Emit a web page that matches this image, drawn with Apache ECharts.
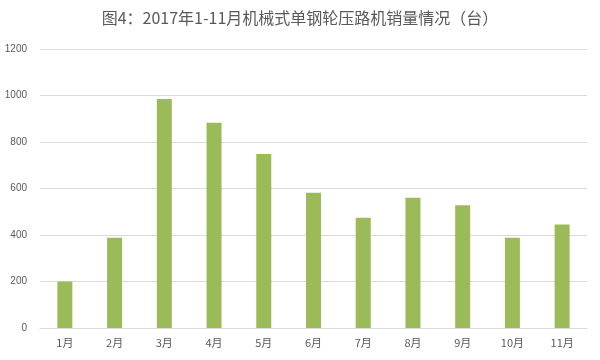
<!DOCTYPE html>
<html><head><meta charset="utf-8">
<script src="https://cdn.jsdelivr.net/npm/echarts@6/dist/echarts.min.js"></script>
<style>html,body{margin:0;padding:0;background:#fff}#c{width:600px;height:360px}</style>
</head><body><div id="c"></div>
<script>
const titleText = '图4：2017年1-11月机械式单钢轮压路机销量情况（台）';
const categories = ['1月','2月','3月','4月','5月','6月','7月','8月','9月','10月','11月'];
const sales = [200, 388, 985, 883, 748, 582, 474, 560, 528, 388, 445];
const yTicks = [0, 200, 400, 600, 800, 1000, 1200];

const chart = echarts.init(document.getElementById('c'));
chart.setOption({
  animation: false,
  backgroundColor: '#fff',
  title: {
    text: titleText, left: 'center', top: 5,
    textStyle: { fontFamily: 'Noto Sans CJK SC', fontSize: 16, fontWeight: 'normal', color: '#595959' }
  },
  grid: { left: 40, right: 13, top: 49, bottom: 32 },
  xAxis: {
    type: 'category', data: categories,
    axisLine: { lineStyle: { color: '#d9d9d9' } },
    axisTick: { show: false },
    axisLabel: { color: '#595959', fontSize: 11, fontFamily: 'Noto Sans CJK SC', margin: 9 }
  },
  yAxis: {
    type: 'value', min: yTicks[0], max: yTicks[yTicks.length-1], interval: 200,
    axisLine: { show: false }, axisTick: { show: false },
    axisLabel: { color: '#595959', fontSize: 10, fontFamily: 'Liberation Sans', margin: 13,
      formatter: v => String(v) },
    splitLine: { lineStyle: { color: '#d9d9d9' } }
  },
  series: [{
    type: 'bar', data: sales, barWidth: 15,
    itemStyle: { color: '#9bbb59' }
  }]
});
</script></body></html>
